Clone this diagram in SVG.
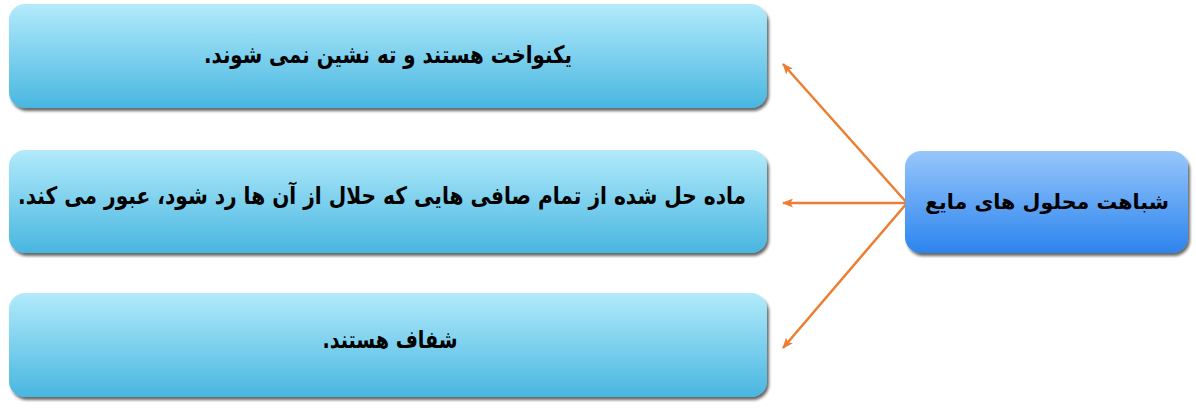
<svg xmlns="http://www.w3.org/2000/svg" width="1196" height="410" viewBox="0 0 1196 410">
<style>
.box{fill:url(#gLight);filter:url(#sh)}
.main{fill:url(#gBlue);filter:url(#sh)}
.t{font-family:"DejaVu Sans","Noto Sans",sans-serif;font-weight:bold;font-size:24px;fill:#000;text-anchor:middle;direction:rtl}
.tm{font-size:20.6px}
.c{stroke:#ED7D31;stroke-width:2.5;fill:none;marker-end:url(#ah)}
</style>
<defs>
<linearGradient id="gLight" x1="0" y1="0" x2="0" y2="1">
<stop offset="0" stop-color="#B2EAFB"/>
<stop offset="1" stop-color="#48B6E0"/>
</linearGradient>
<linearGradient id="gBlue" x1="0" y1="0" x2="0" y2="1">
<stop offset="0" stop-color="#97C6FB"/>
<stop offset="1" stop-color="#2C84EE"/>
</linearGradient>
<filter id="sh" x="-5%" y="-10%" width="110%" height="125%">
<feGaussianBlur in="SourceAlpha" stdDeviation="1.6"/>
<feOffset dx="1.5" dy="3" result="b"/>
<feComponentTransfer><feFuncA type="linear" slope="0.6"/></feComponentTransfer>
<feMerge><feMergeNode/><feMergeNode in="SourceGraphic"/></feMerge>
</filter>
<marker id="ah" markerWidth="11" markerHeight="9" refX="10" refY="4.5" orient="auto" markerUnits="userSpaceOnUse">
<path d="M0,0 L11,4.5 L0,9 L2.5,4.5 Z" fill="#ED7D31"/>
</marker>
</defs>
<g id="connectors">
<line class="c" x1="907" y1="203" x2="783" y2="64"/>
<line class="c" x1="907" y1="203" x2="783" y2="203"/>
<line class="c" x1="907" y1="203" x2="783" y2="348"/>
</g>
<g id="node-1">
<rect class="box" x="9" y="4" width="758" height="104" rx="16"/>
<text class="t" x="388" y="63" textLength="368" lengthAdjust="spacingAndGlyphs">یکنواخت هستند و ته نشین نمی شوند.</text>
</g>
<g id="node-2">
<rect class="box" x="9" y="150" width="758" height="103" rx="16"/>
<text class="t" x="382" y="204" textLength="728" lengthAdjust="spacingAndGlyphs">ماده حل شده از تمام صافی هایی که حلال از آن ها رد شود، عبور می کند.</text>
</g>
<g id="node-3">
<rect class="box" x="9" y="293" width="758" height="104" rx="16"/>
<text class="t" x="390" y="348" textLength="135" lengthAdjust="spacingAndGlyphs">شفاف هستند.</text>
</g>
<g id="node-main">
<rect class="main" x="905" y="151" width="283" height="102" rx="16"/>
<text class="t tm" x="1047" y="209">شباهت محلول های مایع</text>
</g>
</svg>
